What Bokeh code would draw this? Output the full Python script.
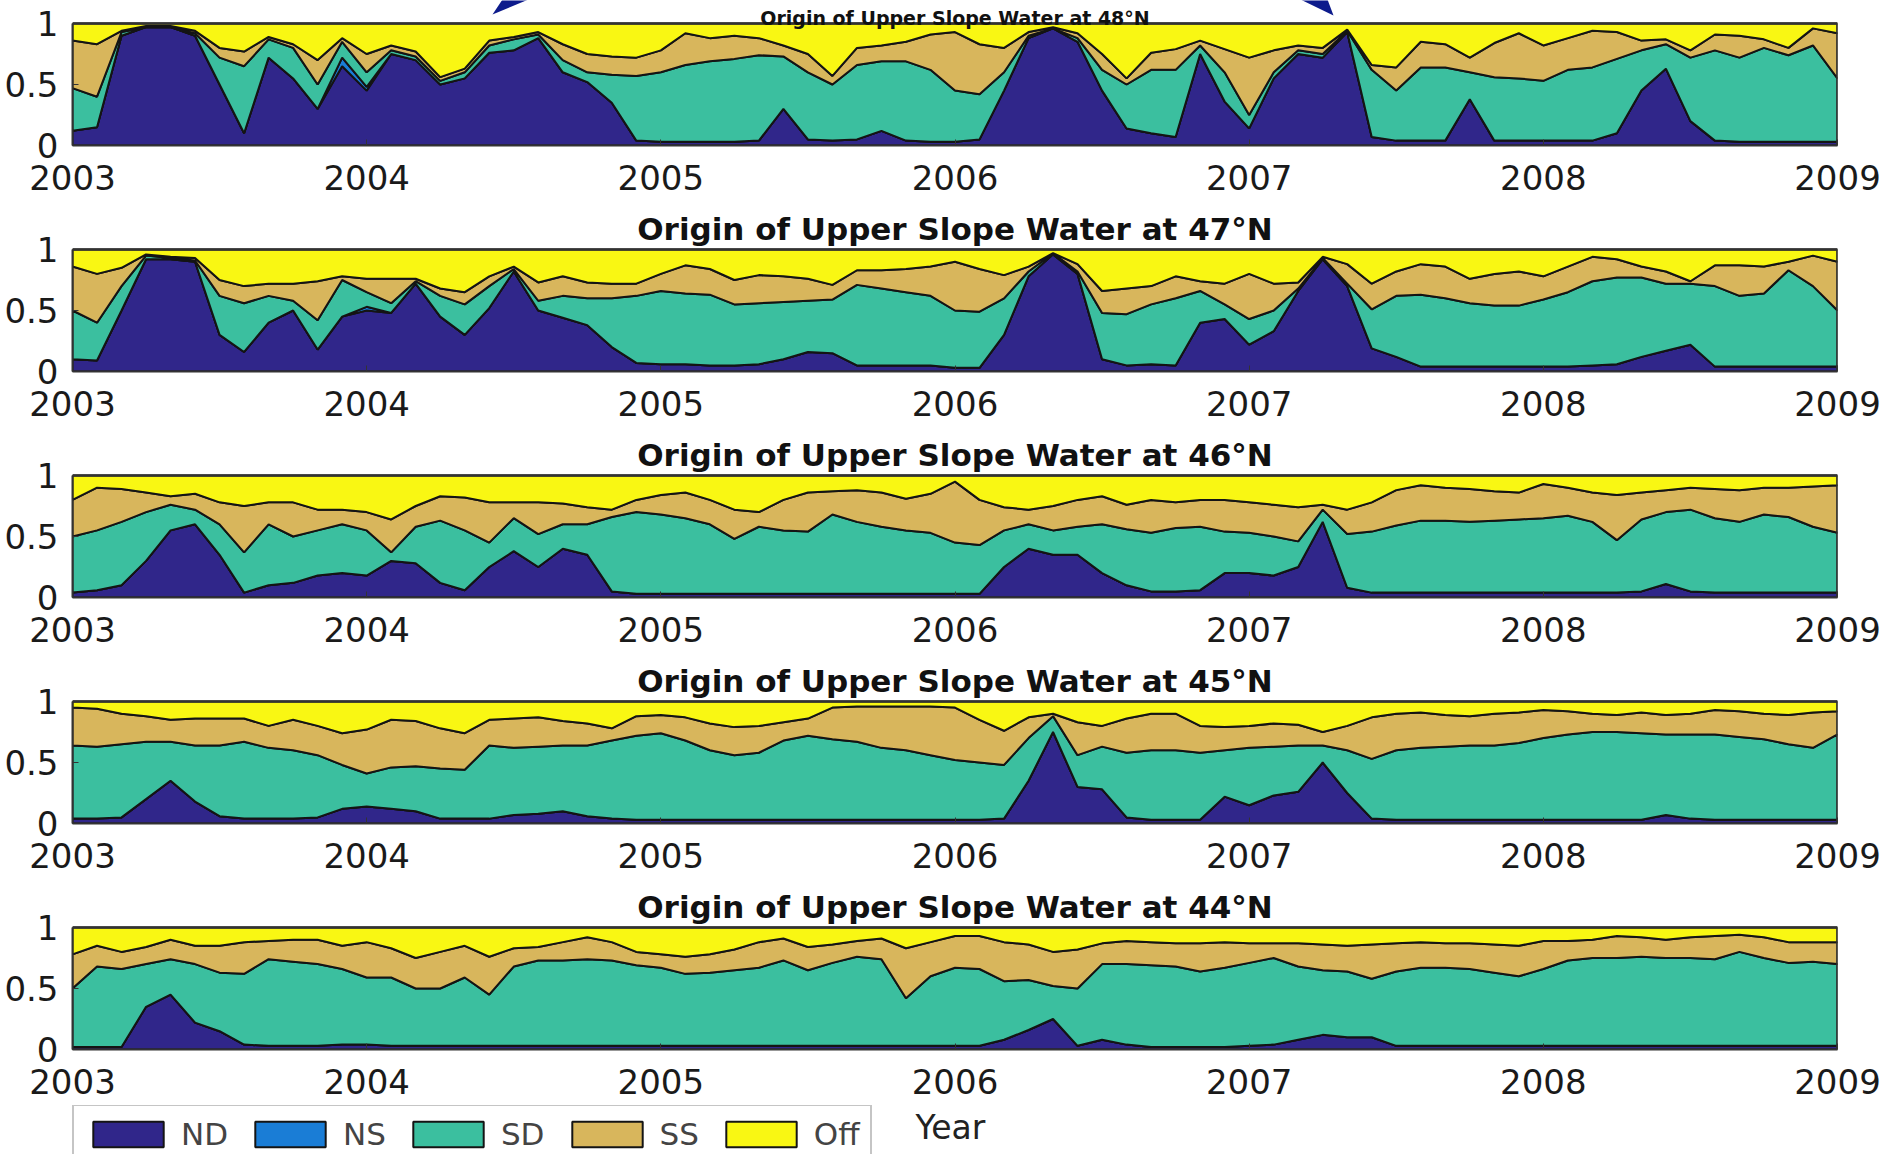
import numpy as np
from bokeh.plotting import figure
from bokeh.layouts import column
from bokeh.models import Range1d, FixedTicker, Legend, LegendItem
from bokeh.core.properties import value
from bokeh.embed import file_html
from bokeh.resources import INLINE

# ---------------- data (monthly, Jan 2003 .. Jan 2009), percent ----------------
# stored as the upper edge of each stacked layer: ND, ND+NS, ..+SD, ..+SS (Off fills to 100)
months = np.arange(73)
years = 2003 + months / 12.0
year_ticks = [2003, 2004, 2005, 2006, 2007, 2008, 2009]
frac_ticks = [0, 0.5, 1]
sources = ["ND", "NS", "SD", "SS", "Off"]
latitudes = ["48", "47", "46", "45", "44"]

nd_48 = [12, 15, 90, 97, 97, 90, 50, 10, 72, 55, 30, 65,
         45, 75, 70, 50, 55, 76, 78, 88, 60, 52, 35, 4,
         3, 3, 3, 3, 4, 30, 5, 4, 5, 12, 4, 3,
         3, 5, 45, 88, 96, 85, 45, 14, 10, 7, 75, 36,
         14, 55, 75, 72, 93, 7, 4, 4, 4, 38, 4, 4,
         4, 4, 4, 10, 45, 63, 20, 4, 3, 3, 3, 3,
         3]
ns_48 = [0, 0, 0, 0, 0, 0, 0, 0, 0, 0, 0, 7,
         3, 0, 0, 0, 0, 0, 0, 0, 0, 0, 0, 0,
         0, 0, 0, 0, 0, 0, 0, 0, 0, 0, 0, 0,
         0, 0, 0, 0, 0, 0, 0, 0, 0, 0, 0, 0,
         0, 0, 0, 0, 0, 0, 0, 0, 0, 0, 0, 0,
         0, 0, 0, 0, 0, 0, 0, 0, 0, 0, 0, 0,
         0]
sd_48 = [47, 40, 93, 97, 97, 92, 72, 65, 87, 80, 50, 85,
         60, 78, 73, 53, 60, 82, 87, 91, 70, 60, 58, 57,
         60, 66, 69, 71, 74, 73, 60, 50, 66, 69, 69, 62,
         45, 42, 60, 90, 96, 88, 62, 50, 62, 62, 82, 60,
         25, 60, 78, 75, 94, 62, 45, 64, 64, 60, 56, 55,
         53, 62, 64, 71, 78, 83, 72, 78, 72, 80, 74, 82,
         55]
ss_48 = [86, 83, 94, 98, 98, 94, 80, 77, 89, 83, 70, 88,
         75, 82, 77, 56, 63, 86, 89, 93, 83, 75, 73, 72,
         78, 92, 88, 90, 88, 82, 75, 57, 80, 82, 85, 91,
         93, 83, 80, 93, 97, 92, 75, 55, 76, 79, 86, 79,
         72, 78, 82, 80, 95, 66, 64, 85, 83, 72, 84, 92,
         82, 88, 94, 93, 86, 87, 78, 91, 90, 87, 80, 96,
         92]

nd_47 = [10, 9, 50, 92, 92, 90, 30, 16, 40, 50, 18, 45,
         50, 48, 72, 45, 30, 52, 82, 50, 44, 38, 20, 7,
         6, 6, 5, 5, 6, 10, 16, 15, 5, 5, 5, 5,
         3, 3, 30, 78, 96, 80, 10, 5, 6, 5, 40, 43,
         22, 33, 66, 92, 70, 19, 12, 4, 4, 4, 4, 4,
         4, 4, 5, 6, 12, 17, 22, 4, 4, 4, 4, 4,
         4]
ns_47 = [0, 0, 0, 0, 0, 0, 0, 0, 0, 0, 0, 0,
         3, 0, 0, 0, 0, 0, 0, 0, 0, 0, 0, 0,
         0, 0, 0, 0, 0, 0, 0, 0, 0, 0, 0, 0,
         0, 0, 0, 0, 0, 0, 0, 0, 0, 0, 0, 0,
         0, 0, 0, 0, 0, 0, 0, 0, 0, 0, 0, 0,
         0, 0, 0, 0, 0, 0, 0, 0, 0, 0, 0, 0,
         0]
sd_47 = [50, 40, 70, 95, 93, 91, 62, 56, 62, 58, 42, 75,
         65, 56, 74, 62, 55, 70, 84, 58, 62, 60, 60, 62,
         66, 64, 63, 55, 56, 57, 58, 59, 71, 68, 65, 62,
         50, 49, 60, 82, 97, 82, 48, 47, 55, 60, 66, 55,
         43, 50, 68, 93, 72, 51, 62, 63, 60, 56, 54, 54,
         59, 65, 74, 77, 77, 72, 72, 70, 62, 64, 83, 70,
         50]
ss_47 = [86, 80, 85, 96, 94, 93, 75, 70, 72, 72, 74, 78,
         76, 76, 76, 68, 65, 78, 86, 73, 78, 73, 72, 72,
         80, 87, 84, 75, 79, 78, 76, 71, 83, 83, 84, 86,
         90, 84, 79, 86, 97, 88, 66, 68, 70, 78, 74, 72,
         80, 72, 73, 94, 88, 72, 82, 88, 86, 76, 80, 82,
         78, 86, 94, 92, 86, 82, 74, 87, 87, 86, 90, 95,
         90]

nd_46 = [4, 6, 10, 30, 55, 60, 35, 4, 10, 12, 18, 20,
         18, 30, 28, 12, 6, 25, 38, 25, 40, 35, 5, 3,
         3, 3, 3, 3, 3, 3, 3, 3, 3, 3, 3, 3,
         3, 3, 25, 40, 35, 35, 20, 10, 5, 5, 6, 20,
         20, 18, 25, 62, 8, 4, 4, 4, 4, 4, 4, 4,
         4, 4, 4, 4, 5, 11, 5, 4, 4, 4, 4, 4,
         4]
sd_46 = [50, 55, 62, 70, 76, 72, 60, 37, 60, 50, 55, 60,
         55, 37, 58, 63, 55, 45, 65, 52, 60, 60, 66, 70,
         68, 65, 60, 48, 58, 55, 54, 68, 62, 58, 55, 53,
         45, 43, 55, 60, 55, 58, 60, 56, 53, 57, 58, 54,
         53, 50, 46, 72, 52, 54, 59, 63, 63, 62, 63, 64,
         65, 67, 62, 47, 64, 70, 72, 65, 62, 68, 66, 58,
         53]
ss_46 = [80, 90, 89, 86, 83, 85, 78, 75, 78, 78, 72, 72,
         70, 64, 75, 83, 82, 78, 78, 78, 77, 74, 72, 80,
         84, 86, 80, 72, 70, 80, 86, 87, 88, 86, 81, 85,
         95, 80, 74, 72, 75, 80, 83, 76, 80, 78, 80, 80,
         78, 76, 74, 76, 72, 78, 88, 92, 90, 89, 87, 86,
         93, 90, 86, 84, 86, 88, 90, 89, 88, 90, 90, 91,
         92]

nd_45 = [4, 4, 5, 20, 35, 18, 6, 4, 4, 4, 5, 12,
         14, 12, 10, 4, 4, 4, 7, 8, 10, 6, 4, 3,
         3, 3, 3, 3, 3, 3, 3, 3, 3, 3, 3, 3,
         3, 3, 4, 35, 75, 30, 28, 5, 3, 3, 3, 22,
         15, 23, 26, 50, 25, 4, 3, 3, 3, 3, 3, 3,
         3, 3, 3, 3, 3, 7, 4, 3, 3, 3, 3, 3,
         3]
sd_45 = [64, 63, 65, 67, 67, 64, 64, 67, 62, 60, 56, 48,
         41, 46, 47, 45, 44, 64, 62, 63, 64, 64, 68, 72,
         74, 68, 60, 56, 58, 68, 72, 69, 67, 62, 60, 56,
         52, 50, 48, 70, 88, 56, 63, 58, 60, 60, 58, 60,
         62, 63, 64, 64, 60, 53, 60, 62, 63, 64, 64, 66,
         70, 73, 75, 75, 74, 73, 73, 73, 71, 69, 65, 62,
         73]
ss_45 = [95, 94, 90, 88, 85, 86, 86, 86, 80, 85, 80, 74,
         77, 85, 84, 78, 74, 85, 86, 87, 84, 82, 78, 88,
         89, 87, 82, 79, 80, 83, 86, 95, 96, 96, 96, 96,
         95, 85, 76, 87, 90, 83, 80, 86, 90, 90, 80, 79,
         80, 82, 81, 75, 80, 87, 90, 91, 89, 88, 90, 91,
         93, 92, 90, 89, 91, 89, 90, 93, 92, 90, 89, 91,
         92]

nd_44 = [2, 2, 2, 35, 45, 22, 15, 4, 3, 3, 3, 4,
         4, 3, 3, 3, 3, 3, 3, 3, 3, 3, 3, 3,
         3, 3, 3, 3, 3, 3, 3, 3, 3, 3, 3, 3,
         3, 3, 8, 16, 25, 3, 8, 4, 2, 2, 2, 2,
         3, 4, 8, 12, 10, 10, 3, 3, 3, 3, 3, 3,
         3, 3, 3, 3, 3, 3, 3, 3, 3, 3, 3, 3,
         3]
sd_44 = [50, 68, 66, 70, 74, 70, 63, 62, 74, 72, 70, 66,
         59, 59, 50, 50, 59, 45, 68, 73, 73, 74, 73, 69,
         67, 62, 63, 65, 67, 73, 65, 71, 76, 74, 42, 60,
         67, 66, 56, 57, 52, 50, 70, 70, 69, 68, 64, 67,
         71, 75, 68, 65, 64, 58, 64, 67, 67, 66, 63, 60,
         66, 73, 75, 75, 76, 75, 75, 74, 80, 75, 71, 72,
         70]
ss_44 = [78, 85, 80, 84, 90, 85, 85, 88, 89, 90, 90, 85,
         88, 83, 75, 80, 85, 76, 83, 84, 88, 92, 88, 80,
         78, 76, 78, 82, 88, 91, 84, 86, 89, 91, 83, 88,
         93, 93, 88, 86, 80, 82, 87, 89, 88, 87, 87, 88,
         87, 87, 87, 86, 85, 86, 87, 88, 87, 87, 86, 85,
         89, 89, 90, 93, 92, 90, 92, 93, 94, 92, 88, 88,
         88]

zeros = [0] * 73
panel_data = [
    (nd_48, ns_48, sd_48, ss_48),
    (nd_47, ns_47, sd_47, ss_47),
    (nd_46, zeros, sd_46, ss_46),
    (nd_45, zeros, sd_45, ss_45),
    (nd_44, zeros, sd_44, ss_44),
]

# ---------------- styling ----------------
COLORS = ["#30268a", "#1a7dd6", "#3bbf9f", "#d8b65c", "#f9f713"]
EDGE = "#141414"
BOX = "#333333"
FONT = "DejaVu Sans"
ARROW = "#0d1b8c"
W = 1883
DATA_H = 122          # pixel height of the 0..1 box
LEFT, RIGHT, BOTTOM = 72, 46, 56
PX_PER_YEAR = (W - LEFT - RIGHT) / 6.0


def stacked_edges(nd, ns, sd, ss):
    nd_a = np.array(nd) / 100.0
    ns_a = nd_a + np.array(ns) / 100.0
    sd_a = np.maximum(np.array(sd) / 100.0, ns_a)
    ss_a = np.maximum(np.array(ss) / 100.0, sd_a)
    return [np.zeros_like(nd_a), nd_a, ns_a, sd_a, ss_a, np.ones_like(nd_a)]


def draw_layers(p, edges):
    rends = []
    for k in range(5):
        lo, hi = edges[k], edges[k + 1]
        xs = np.concatenate([years, years[::-1]])
        ys = np.concatenate([hi, lo[::-1]])
        rends.append(p.patch(xs, ys, fill_color=COLORS[k], fill_alpha=1.0,
                             line_color=EDGE, line_width=2.0))
    return rends


figs = []
all_edges = []
for i, (lat, arrs) in enumerate(zip(latitudes, panel_data)):
    for arr in arrs:
        if len(arr) != len(years):
            raise ValueError("bad length %d in panel %s" % (len(arr), lat))
    edges = stacked_edges(*arrs)
    all_edges.append(edges)

    head = 23 if i == 0 else 48           # room above the box for the heading
    ytop = 1 + head / DATA_H
    p = figure(width=W, height=head + DATA_H + BOTTOM,
               x_range=Range1d(2003, 2009), y_range=Range1d(0, ytop),
               output_backend="svg", toolbar_location=None,
               min_border_left=LEFT, min_border_right=RIGHT,
               min_border_top=0, min_border_bottom=BOTTOM,
               background_fill_color="white", border_fill_color="white")
    p.grid.visible = False
    p.outline_line_color = None

    draw_layers(p, edges)
    # top and right edges of the box
    p.segment(x0=[2003, 2009], y0=[1, 0], x1=[2009, 2009], y1=[1, 1],
              line_color=BOX, line_width=2.5)

    p.xaxis.ticker = FixedTicker(ticks=year_ticks)
    p.yaxis.ticker = FixedTicker(ticks=frac_ticks)
    p.yaxis.bounds = (0, 1)
    p.yaxis.major_label_overrides = {0: "0", 0.5: "0.5", 1: "1"}
    for ax in (p.xaxis, p.yaxis):
        ax.major_tick_in = 6
        ax.major_tick_out = 0
        ax.minor_tick_line_color = None
        ax.axis_line_color = BOX
        ax.axis_line_width = 2
        ax.major_tick_line_color = BOX
        ax.major_label_text_font = FONT
        ax.major_label_text_font_size = "34px"
        ax.major_label_text_color = "#1a1a1a"
    p.xaxis.major_label_standoff = 19
    p.yaxis.major_label_standoff = 14

    heading = "Origin of Upper Slope Water at %s\u00b0N" % lat
    if i == 0:
        p.text(x=[2006.0], y=[1 + 6 / DATA_H], text=[heading],
               text_align="center", text_baseline="alphabetic", text_font=value(FONT),
               text_font_style="bold", text_font_size="19px", text_color="#111111")
        # two arrow tips at the top edge
        def py(cy):
            return 1 + (23 - cy) / DATA_H
        def px(cx):
            return 2003 + (cx - LEFT) / PX_PER_YEAR
        p.patch([px(492), px(502), px(528)], [py(14), py(-1), py(-1)], fill_color=ARROW, line_color=None)
        p.patch([px(1333), px(1327), px(1300)], [py(15), py(-1), py(-1)], fill_color=ARROW, line_color=None)
    else:
        p.text(x=[2006.0], y=[1 + 21 / DATA_H], text=[heading],
               text_align="center", text_baseline="alphabetic", text_font=value(FONT),
               text_font_style="bold", text_font_size="31px", text_color="#111111")
    figs.append(p)

# bottom strip: legend and x label (its box is aligned with the panels above)
BOT_H = 49
bot = figure(width=W, height=BOT_H, x_range=Range1d(2003, 2009), y_range=Range1d(100 + BOT_H, 100),
             min_border_left=LEFT, min_border_right=RIGHT, min_border_top=0, min_border_bottom=0,
             x_axis_location=None, y_axis_location=None,
             toolbar_location=None, output_backend="svg", outline_line_color=None,
             background_fill_color="white", border_fill_color="white")
bot.grid.visible = False
key_renderers = draw_layers(bot, all_edges[-1])   # lies outside this strip's y range; used for the key
legend = Legend(items=[LegendItem(label=s, renderers=[r]) for s, r in zip(sources, key_renderers)],
                orientation="horizontal", location=(0, -10),
                glyph_width=88, glyph_height=32, label_standoff=9, spacing=18,
                padding=10, margin=0,
                label_text_font=FONT, label_text_font_size="31px",
                border_line_color="#8c8c8c", border_line_width=2,
                background_fill_color="white", background_fill_alpha=1.0)
bot.add_layout(legend)
bot.text(x=[2003 + (915 - LEFT) / PX_PER_YEAR], y=[100 + 22], text=["Year"],
         text_align="left", text_baseline="middle",
         text_font=value(FONT), text_font_size="33px", text_color="#222222")
figs.append(bot)

layout = column(*figs, spacing=0)
open("out.html", "w").write(file_html(layout, INLINE))
